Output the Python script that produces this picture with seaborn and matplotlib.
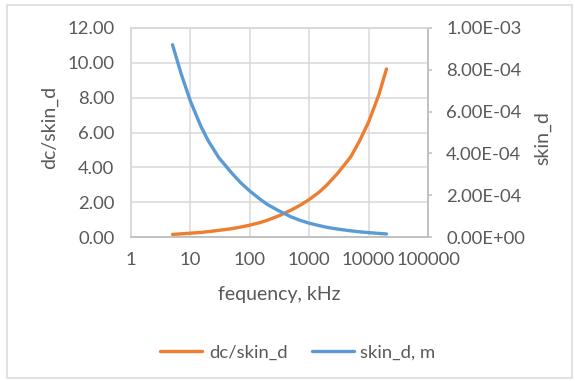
import numpy as np
import pandas as pd
import matplotlib
matplotlib.use("Agg")
import matplotlib.pyplot as plt
import seaborn as sns
from matplotlib.patches import Rectangle
from matplotlib.lines import Line2D

# data
freq_khz = [5, 7, 10, 15, 20, 30, 50, 70, 100, 150, 200, 300, 500, 700,
            1000, 1500, 2000, 3000, 5000, 7000, 10000, 15000, 20000]
dc_over_skin = [0.15, 0.18, 0.22, 0.26, 0.31, 0.38, 0.48, 0.57, 0.68, 0.83, 0.97, 1.2, 1.55, 1.82,
                2.15, 2.6, 3.0, 3.65, 4.6, 5.5, 6.6, 8.2, 9.65]
skin_d = [9.2e-4, 7.8e-4, 6.5e-4, 5.3e-4, 4.6e-4, 3.8e-4, 3.05e-4, 2.6e-4, 2.2e-4, 1.8e-4, 1.55e-4,
          1.27e-4, 9.6e-5, 8.0e-5, 6.6e-5, 5.4e-5, 4.6e-5, 3.8e-5, 2.95e-5, 2.5e-5, 2.1e-5, 1.7e-5, 1.45e-5]

x_ticks = [1, 10, 100, 1000, 10000, 100000]
left_ticks = [0, 2, 4, 6, 8, 10, 12]
right_ticks = [0, 2e-4, 4e-4, 6e-4, 8e-4, 1e-3]

df = pd.DataFrame({"freq": freq_khz, "ratio": dc_over_skin, "skin": skin_d})

sns.set_style("white")
plt.rcParams['font.family'] = ['Lato', 'DejaVu Sans']
txt = '#595959'
orange = '#ED7D31'
blue = '#5B9BD5'
grid_c = '#D9D9D9'
axis_c = '#BFBFBF'
fs = 13.3
fs_title = 14

fig = plt.figure(figsize=(5.75, 3.81), dpi=100)
fig.patches.append(Rectangle((7 / 575, 1 - 378 / 381), 565 / 575, 373 / 381,
                             transform=fig.transFigure, fill=False,
                             edgecolor='#DCDCDC', lw=1.2))

ax = fig.add_axes([131 / 575, 1 - 237 / 381, 297 / 575, 209 / 381])
ax2 = ax.twinx()

sns.lineplot(data=df, x="freq", y="ratio", ax=ax, color=orange, lw=2.4)
sns.lineplot(data=df, x="freq", y="skin", ax=ax2, color=blue, lw=2.4)

ax.set_xscale('log')
ax.set_xlim(1, 100000)
ax.set_xticks(x_ticks)
ax.set_xticklabels([str(t) for t in x_ticks])
ax.xaxis.set_minor_locator(matplotlib.ticker.NullLocator())
ax.set_ylim(0, 12)
ax.set_yticks(left_ticks)
ax.set_yticklabels([f"{t:.2f}" for t in left_ticks])
ax2.set_ylim(0, 1e-3)
ax2.set_yticks(right_ticks)
ax2.set_yticklabels([f"{t:.2E}" for t in right_ticks])

ax.grid(True, color=grid_c, lw=1.1)
ax.set_axisbelow(True)
for s in ['left', 'top']:
    ax.spines[s].set_color(grid_c)
    ax2.spines[s].set_color(grid_c)
for s in ['bottom', 'right']:
    ax.spines[s].set_color(axis_c)
    ax2.spines[s].set_color(axis_c)
for a in (ax, ax2):
    for s in a.spines.values():
        s.set_linewidth(1.1)

ax.tick_params(axis='both', length=0, labelsize=fs, labelcolor=txt)
ax.tick_params(axis='y', pad=12)
ax.tick_params(axis='x', pad=11)
ax2.tick_params(axis='y', length=3, width=1.1, color=axis_c, pad=10,
                labelsize=fs, labelcolor=txt)

ax.set_xlabel("fequency, kHz", fontsize=fs_title, color=txt)
ax.xaxis.set_label_coords(0.5, -0.277)
ax.xaxis.label.set_va('center')
ax.set_ylabel("dc/skin_d", fontsize=fs_title, color=txt)
ax.yaxis.set_label_coords(-0.274, 0.526)
ax.yaxis.label.set_va('center')
ax2.set_ylabel("skin_d", fontsize=fs_title, color=txt)
ax2.yaxis.set_label_coords(1.387, 0.474)
ax2.yaxis.label.set_va('center')

handles = [Line2D([], [], color=orange, lw=2.4), Line2D([], [], color=blue, lw=2.4)]
fig.legend(handles, ["dc/skin_d", "skin_d, m"], loc='center',
           bbox_to_anchor=(0.518, 1 - 352.7 / 381), ncol=2, frameon=False,
           fontsize=fs, labelcolor=txt, handlelength=2.3, handletextpad=0.35,
           columnspacing=1.3)

fig.savefig("out.png", dpi=100)
